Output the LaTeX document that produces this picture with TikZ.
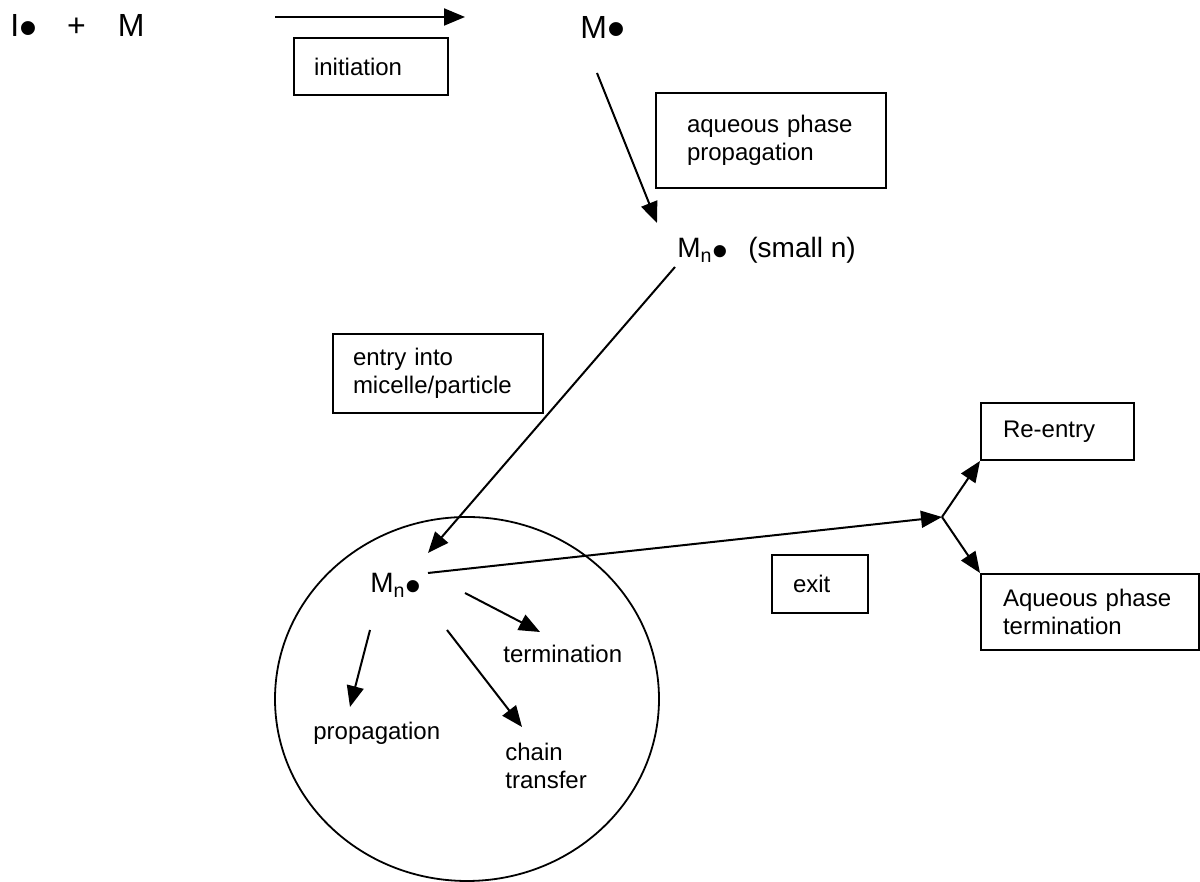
\documentclass[tikz,border=0pt]{standalone}
\usepackage{fontspec}
\usepackage{graphicx}
\setmainfont{Liberation Sans}
\usetikzlibrary{arrows.meta}

% radical dot, a bit larger than the font's bullet
\newcommand{\rdot}[1][-.22em]{\raisebox{#1}{\scalebox{1.6}{\textbullet}}}

\tikzset{
  arr/.style={-{Triangle[length=10.5pt,width=8.5pt]}, line width=1pt},
  box/.style={draw, line width=1pt, anchor=north west, align=left, font=\fontsize{12}{14}\selectfont},
  lbl/.style={inner sep=0pt, anchor=base west, font=\fontsize{12}{14}\selectfont},
  big/.style={inner sep=0pt, anchor=base west, font=\fontsize{16}{19}\selectfont},
  mid/.style={inner sep=0pt, anchor=base west, font=\fontsize{14}{17}\selectfont},
}

\begin{document}
\begin{tikzpicture}[x=0.5pt,y=0.5pt]
	\useasboundingbox (0,0) rectangle (1200,882);
	% species
	\node [big] (ipm) at (10,845) {I\rdot[-.28em]\hspace{15pt}+\hspace{16pt}M};
	\node [big] (mdot) at (580,843) {M\rdot};
	\node [mid] (mn) at (677,624) {M\textsubscript{n}\rdot[-.32em]};
	\node [mid] (smalln) at (748,624) {(small n)};
	\node [mid] (mi) at (370,289) {M\textsubscript{n}\rdot[-.32em]};
	% boxes
	\node [box, text width=57pt, inner xsep=10pt, minimum height=28.5pt] (initbox) at (293,845) {initiation};
	\node [box, text width=84pt, inner xsep=15.5pt, minimum height=47.5pt] (aqbox) at (655,790) {aqueous~phase\\propagation};
	\node [box, text width=85pt, inner xsep=10pt, minimum height=39.5pt] (entrybox) at (332,549) {entry~into\\micelle/particle};
	\node [box, text width=27pt, inner xsep=10.5pt, minimum height=29pt] (exitbox) at (771,328) {exit};
	\node [box, text width=54.5pt, inner xsep=11pt, minimum height=28.5pt] (rebox) at (980,480) {Re-entry};
	\node [box, text width=87pt, inner xsep=11pt, minimum height=38pt] (atbox) at (980,309) {Aqueous~phase\\termination};
	% particle
	\draw [line width=.9pt] (467,183) ellipse [x radius=192, y radius=182];
	\node [lbl] (prop) at (313,142) {propagation};
	\node [lbl] (term) at (503,219) {termination};
	\node [lbl, anchor=north west, align=left] (chain) at (505,139.5) {chain\\transfer};
	% arrows
	\coordinate (initL) at (275,865);
	\coordinate (initR) at (465,865);
	\coordinate (mdotout) at (597,809);
	\coordinate (mnin) at (657,659);
	\coordinate (mnout) at (675,615);
	\coordinate (miin) at (428,329);
	\coordinate (miout) at (428,309);
	\coordinate (split) at (942,365);
	\coordinate (propin) at (350,175);
	\coordinate (chainin) at (522,155);
	\coordinate (termin) at (540,250);
	\draw [arr] (initL) -- (initR);
	\draw [arr] (mdotout) -- (mnin);
	\draw [arr] (mnout) -- (miin);
	\draw [arr] (miout) -- (split);
	\draw [arr] (split) -- (rebox.south west);
	\draw [arr] (split) -- (atbox.north west);
	\draw [arr] (370,252) -- (propin);
	\draw [arr] (447,252) -- (chainin);
	\draw [arr] (465,289) -- (termin);
\end{tikzpicture}
\end{document}
